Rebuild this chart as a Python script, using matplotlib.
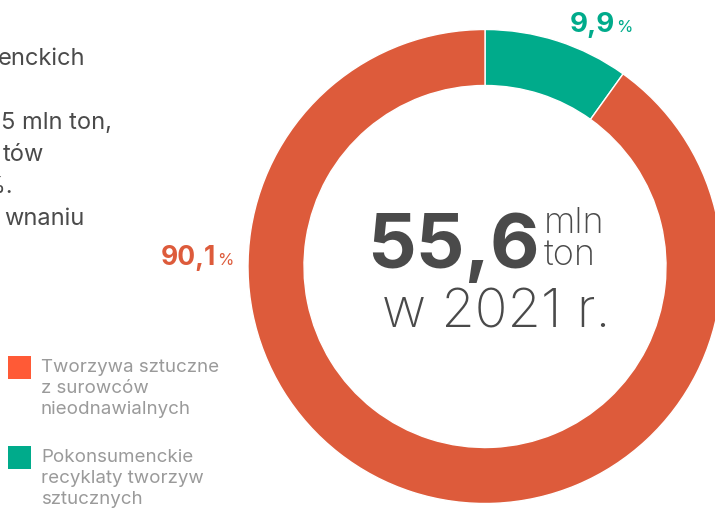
import matplotlib
matplotlib.use("Agg")
import matplotlib.pyplot as plt

# donut data (share of plastics, 2021)
labels = ["Tworzywa sztuczne\nz surowców\nnieodnawialnych",
          "Pokonsumenckie\nrecyklaty tworzyw\nsztucznych"]
shares = [90.1, 9.9]
share_text = ["90,1", "9,9"]
colors = ["#dd5b3b", "#00ab8b"]
legend_colors = ["#ff5a36", "#00ab8b"]
total_text = "55,6"
year_text = "w 2021 r."

# cut-off body text on the left edge
body_lines = ["enckich", "", "5 mln ton,", "tów", "1%.", "wnaniu"]

plt.rcParams['font.family'] = ['Inter', 'DejaVu Sans']
dark = "#4a4a4a"
grey = "#9a9a9a"

W, H = 715, 508
fig = plt.figure(figsize=(W / 100, H / 100), dpi=100)
ax = fig.add_axes([0, 0, 1, 1])

def py(y):
    # pixel-from-top -> data y
    return H - y

ax.pie(shares[::-1], colors=colors[::-1], center=(485, py(266.5)), radius=237,
       startangle=90, counterclock=False,
       wedgeprops=dict(width=56, edgecolor="white", linewidth=1))
ax.set_xlim(0, W)
ax.set_ylim(0, H)
ax.set_aspect("auto")
ax.axis("off")

renderer = fig.canvas.get_renderer()

def right_of(t, gap=0):
    # x (data == pixels here) just right of a text
    return t.get_window_extent(renderer).x1 + gap

# centre label
big = ax.text(367, py(268), total_text, fontsize=55, fontweight="bold",
              color=dark, ha="left", va="baseline")
xu = right_of(big, 4)
ax.text(xu, py(233), "mln", fontsize=26, fontweight="light", color=dark,
        ha="left", va="baseline")
ax.text(xu, py(265), "ton", fontsize=26, fontweight="light", color=dark,
        ha="left", va="baseline")
ax.text(496, py(328), year_text, fontsize=39, fontweight="light", color=dark,
        ha="center", va="baseline")

# percentage labels
t = ax.text(570, py(32), share_text[1], fontsize=20, fontweight="bold",
            color=colors[1], ha="left", va="baseline")
ax.text(right_of(t, 1), py(32), "%", fontsize=12, color=colors[1],
        ha="left", va="baseline")
t = ax.text(161, py(265), share_text[0], fontsize=19, fontweight="bold",
            color=colors[0], ha="left", va="baseline")
ax.text(right_of(t, 1), py(265), "%", fontsize=12, color=colors[0],
        ha="left", va="baseline")

# body text fragments
body_right = [85, 0, 112, 44, 14, 84]
for i, (line, xr) in enumerate(zip(body_lines, body_right)):
    if line:
        ax.text(xr, py(65 + 32 * i), line, fontsize=17, color=dark,
                ha="right", va="baseline")

# legend
for k, (lab, c) in enumerate(zip(labels, legend_colors)):
    top = 356 + 90 * k
    ax.add_patch(plt.Rectangle((8, py(top + 23)), 23, 23, color=c, lw=0))
    for j, part in enumerate(lab.split("\n")):
        ax.text(41, py(top + 16 + 21 * j), part, fontsize=13.5, color=grey,
                ha="left", va="baseline")

fig.savefig("out.png", dpi=100)
